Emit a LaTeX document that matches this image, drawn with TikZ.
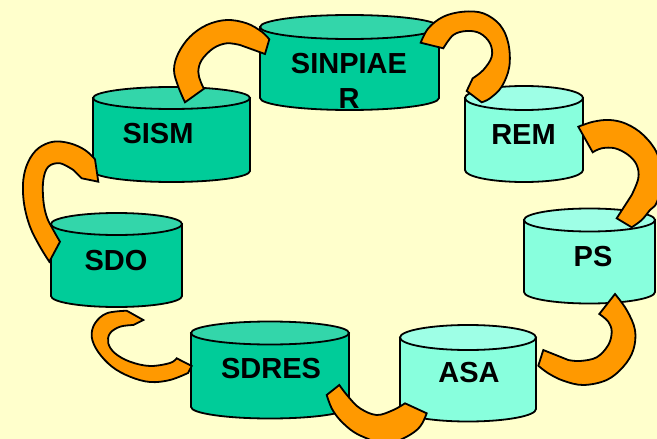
\documentclass[tikz,border=0pt]{standalone}
\usepackage{fontspec}
\setmainfont{Liberation Sans}
\definecolor{bg}{RGB}{255,255,204}
\definecolor{tealbody}{RGB}{0,204,153}
\definecolor{tealtop}{RGB}{51,214,170}
\definecolor{mintbody}{RGB}{136,255,221}
\definecolor{minttop}{RGB}{158,255,230}
\definecolor{arcorange}{RGB}{255,153,0}

% drum: #1 cx, #2 rx, #3 top centre y, #4 bottom centre y, #5 ry, #6 body, #7 lid
\newcommand{\drum}[7]{%
  \filldraw[drumline, fill=#6] ({#1-#2},#3) -- ({#1-#2},#4)
    arc[start angle=180, end angle=0, x radius=#2, y radius=#5]
    -- ({#1+#2},#3) -- cycle;
  \filldraw[drumline, fill=#7] (#1,#3) ellipse[x radius=#2, y radius=#5];
}

\begin{document}
\begin{tikzpicture}[x=1pt, y=-1pt,
  drumline/.style={draw=black, line width=1.8pt},
  lbl/.style={font=\fontsize{29}{34.6}\selectfont\bfseries, inner sep=0pt, align=center},
  curvearrow/.style={draw=black, fill=arcorange, line width=1.8pt, line join=miter},
  sm/.style={smooth, tension=0.6}]

\useasboundingbox (0,0) rectangle (657,439);
\fill[bg] (0,0) rectangle (657,439);
\clip (0,0) rectangle (657,439);

% drums
\drum{349.5}{89.5}{27}{98}{12}{tealbody}{tealtop}
\drum{171.5}{78.5}{98}{171}{11}{tealbody}{tealtop}
\drum{116.5}{65.5}{224}{296}{11}{tealbody}{tealtop}
\drum{270}{79}{333}{407}{11.5}{tealbody}{tealtop}
\drum{524}{59}{98}{170}{12}{mintbody}{minttop}
\drum{589.5}{65.5}{220}{292}{11.5}{mintbody}{minttop}
\drum{468}{68}{337.5}{409}{12.5}{mintbody}{minttop}

% labels
\node[lbl] (sinpiaer) at (349,81) {SINPIAE\\R};
\node[lbl] (sism) at (158,134) {SISM};
\node[lbl] (sdo) at (116,261) {SDO};
\node[lbl] (rem) at (523.5,135) {REM};
\node[lbl] (ps) at (593,256.7) {PS};
\node[lbl] (sdres) at (271,369) {SDRES};
\node[lbl] (asa) at (469,372.5) {ASA};

% curved arrows between the drums
% SISM -> SINPIAER
\filldraw[curvearrow] plot[sm] coordinates {(185,102.3) (178.3,86.7) (174,70) (178.3,53.3) (190,36.7) (206.7,25) (226.7,20) (246.7,23.3) (261.7,31.7) (269.3,39.3)}
  -- (265,54) -- (240,45)
  -- plot[sm] coordinates {(240,45) (226.7,43.3) (213.3,48.3) (201.7,60) (198.3,71.7) (200.7,81.7) (204,88.7)} -- cycle;
% SINPIAER -> REM
\filldraw[curvearrow] plot[sm] coordinates {(420.7,42.7) (428.3,28.3) (443.3,16.7) (463.3,11.7) (483.3,13.3) (500,25) (508.3,43.3) (509.3,66.7) (501.7,86.7) (490,98.3) (481.7,102.3)}
  -- (466.7,91) -- (472.7,78.3)
  -- plot[sm] coordinates {(472.7,78.3) (483.3,70) (491.7,56.7) (490,43.3) (480,33.3) (466.7,31) (453.3,35) (443.3,48.3)} -- cycle;
% REM -> PS
\filldraw[curvearrow] plot[sm] coordinates {(578.3,126.7) (593.3,121.7) (610,120) (626.7,124) (643.3,135) (657,153.3) (662,178) (657,202) (650,210) (641.7,220) (631.7,227.3)}
  -- (616.7,218.3) -- (631.7,195)
  -- plot[sm] coordinates {(631.7,195) (638.3,178.3) (636.7,165) (628.3,155) (615,148.3) (601.7,148.3) (592.7,152.3)} -- cycle;
% PS -> ASA
\filldraw[curvearrow] plot[sm] coordinates {(615,294) (626.7,310) (635,330) (633.3,350) (623.3,366.7) (606.7,380) (583.3,385) (563.3,380.7) (548.3,373.3) (538.3,365.7)}
  -- (543.3,350) -- (568.3,360)
  -- plot[sm] coordinates {(568.3,360) (580,361) (596.7,357.3) (608.3,345) (611.7,331.7) (608.3,321.7) (599.3,314)} -- cycle;
% ASA -> SDRES
\filldraw[curvearrow] plot[sm] coordinates {(426.7,413.3) (420,426.7) (406.7,436.7) (385,445) (368.3,439) (353.3,431.7) (340,420) (331.7,408.3) (326.7,395)}
  -- (339.3,385)
  -- plot[sm] coordinates {(339.3,385) (348.3,396.7) (360,408.3) (376.7,415) (393.3,410) (405,403.3)} -- cycle;
% SDRES -> SDO
\filldraw[curvearrow] plot[sm] coordinates {(188,373) (170,380) (150,382) (130,376.7) (112,366.7) (98,351.7) (91.7,336.7) (95,323.3) (106.7,313.3) (126.7,310.7)}
  -- (143.3,320) -- (133.3,325)
  -- plot[sm] coordinates {(133.3,325) (120,326.7) (110,333.3) (108.3,343.3) (115,353.3) (130,361.7) (150,366) (170,363) (176.7,358.3)}
  -- (191.7,366) -- cycle;
% SDO -> SISM
\filldraw[curvearrow] plot[sm] coordinates {(49.3,261.7) (40,246.7) (30,226.7) (24,203.3) (23.3,180) (28.3,161.7) (38.3,148.3) (53.3,141.7) (70,143.3) (85,150) (95,159.3)}
  -- (98.3,181.7) -- (81.7,178.3) -- (73.3,170)
  -- plot[sm] coordinates {(73.3,170) (60,163.3) (48.3,166.7) (43.3,180) (43.3,200) (46.7,216.7) (53.3,230) (60,241.7)} -- cycle;

\end{tikzpicture}
\end{document}
